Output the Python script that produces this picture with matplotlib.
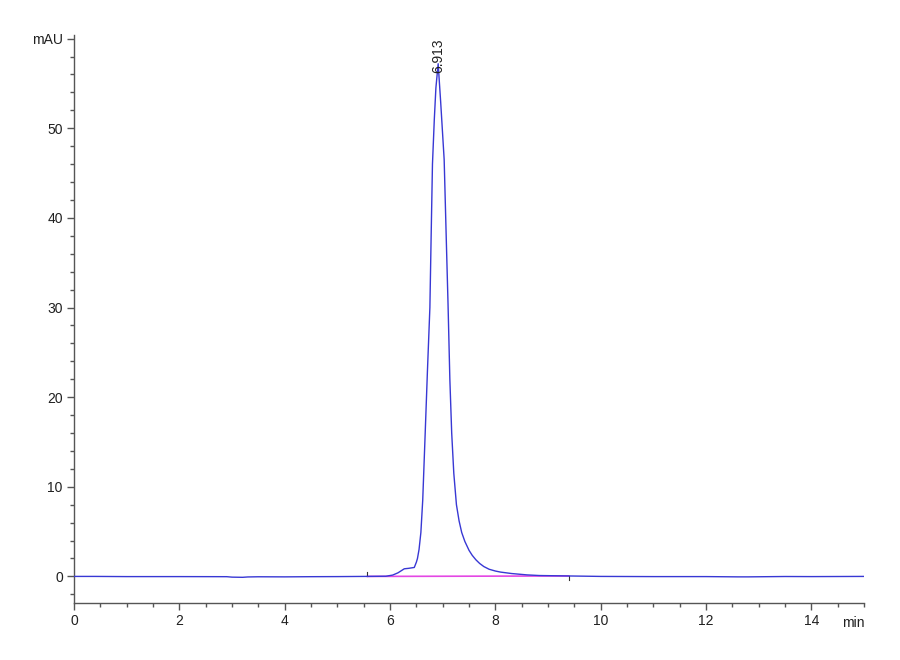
import numpy as np
import matplotlib
matplotlib.use('Agg')
import matplotlib.pyplot as plt
from matplotlib.ticker import MultipleLocator

plt.rcParams['font.family'] = ['Liberation Sans', 'DejaVu Sans']

# chromatogram trace (min, mAU)
time = [0.0, 0.4, 1.0, 2.0, 2.9, 3.0, 3.2, 3.3, 3.5, 4.0, 4.5, 5.0, 5.5, 5.92,
        6.05, 6.15, 6.27, 6.35, 6.46, 6.50, 6.52, 6.55, 6.585, 6.62, 6.667,
        6.71, 6.756, 6.78, 6.805, 6.84, 6.87, 6.913, 6.96, 7.027, 7.07, 7.10,
        7.135, 7.17, 7.21, 7.26, 7.31, 7.36, 7.42, 7.5, 7.56, 7.63, 7.7, 7.78,
        7.88, 8.0, 8.1, 8.31, 8.6, 8.83, 9.4, 10.0, 11.0, 12.0, 12.6, 12.8,
        13.5, 14.0, 15.0]
mau = [0.0, 0.0, -0.02, -0.02, -0.03, -0.08, -0.1, -0.06, -0.04, -0.05, -0.03, -0.02, 0.0, 0.02,
       0.15, 0.4, 0.85, 0.9, 1.0, 1.6, 2.0, 3.0, 4.9, 8.5, 16.0,
       23.0, 30.0, 38.0, 46.0, 51.0, 54.5, 57.2, 53.0, 46.5, 37.0, 30.5,
       22.0, 16.0, 11.5, 8.0, 6.2, 4.9, 3.9, 2.9, 2.35, 1.85, 1.45, 1.1,
       0.8, 0.6, 0.48, 0.32, 0.17, 0.1, 0.05, 0.0, -0.02, -0.02, -0.05, -0.05,
       -0.01, -0.02, 0.0]

# integration baseline and peak label
base_t = [5.57, 9.39]
base_v = [0.0, 0.05]
peak_rt = 6.913
peak_top = 56.2

fig = plt.figure(figsize=(9, 6.6), dpi=100)
ax = fig.add_axes([0.0822, 0.0859, 0.878, 0.861])

ax.plot(base_t, base_v, color='#e447e4', lw=1.2, zorder=2)
ax.plot(time, mau, color='#3838d4', lw=1.0, zorder=3)
# start/end marks of the integration
ax.plot([base_t[0], base_t[0]], [0.0, 0.45], color='#333333', lw=0.8)
ax.plot([base_t[1], base_t[1]], [0.05, -0.45], color='#333333', lw=0.8)

ax.text(peak_rt, peak_top, '%.3f' % peak_rt, rotation=90, ha='center', va='bottom',
        fontsize=10, color='#202020')

ax.set_xlim(0, 15)
ax.set_ylim(-3, 60.4)
ax.set_xticks([0, 2, 4, 6, 8, 10, 12, 14])
ax.set_xticklabels(['0', '2', '4', '6', '8', '10', '12', '14'])
ax.xaxis.set_minor_locator(MultipleLocator(0.5))
ax.set_yticks([0, 10, 20, 30, 40, 50, 60])
ax.set_yticklabels(['0', '10', '20', '30', '40', '50', 'mAU'])
ax.yaxis.set_minor_locator(MultipleLocator(2))

for s in ['top', 'right']:
    ax.spines[s].set_visible(False)
for s in ['left', 'bottom']:
    ax.spines[s].set_color('#555555')
    ax.spines[s].set_linewidth(1.0)
ax.tick_params(which='major', length=5, width=1.0, color='#555555', labelsize=10, labelcolor='#202020', pad=3)
ax.tick_params(which='minor', length=3, width=1.0, color='#555555')

ax.text(14.8, -0.0345, 'min', transform=ax.get_xaxis_transform(), ha='center', va='center',
        fontsize=10, color='#202020')

fig.savefig('out.png', dpi=100)
